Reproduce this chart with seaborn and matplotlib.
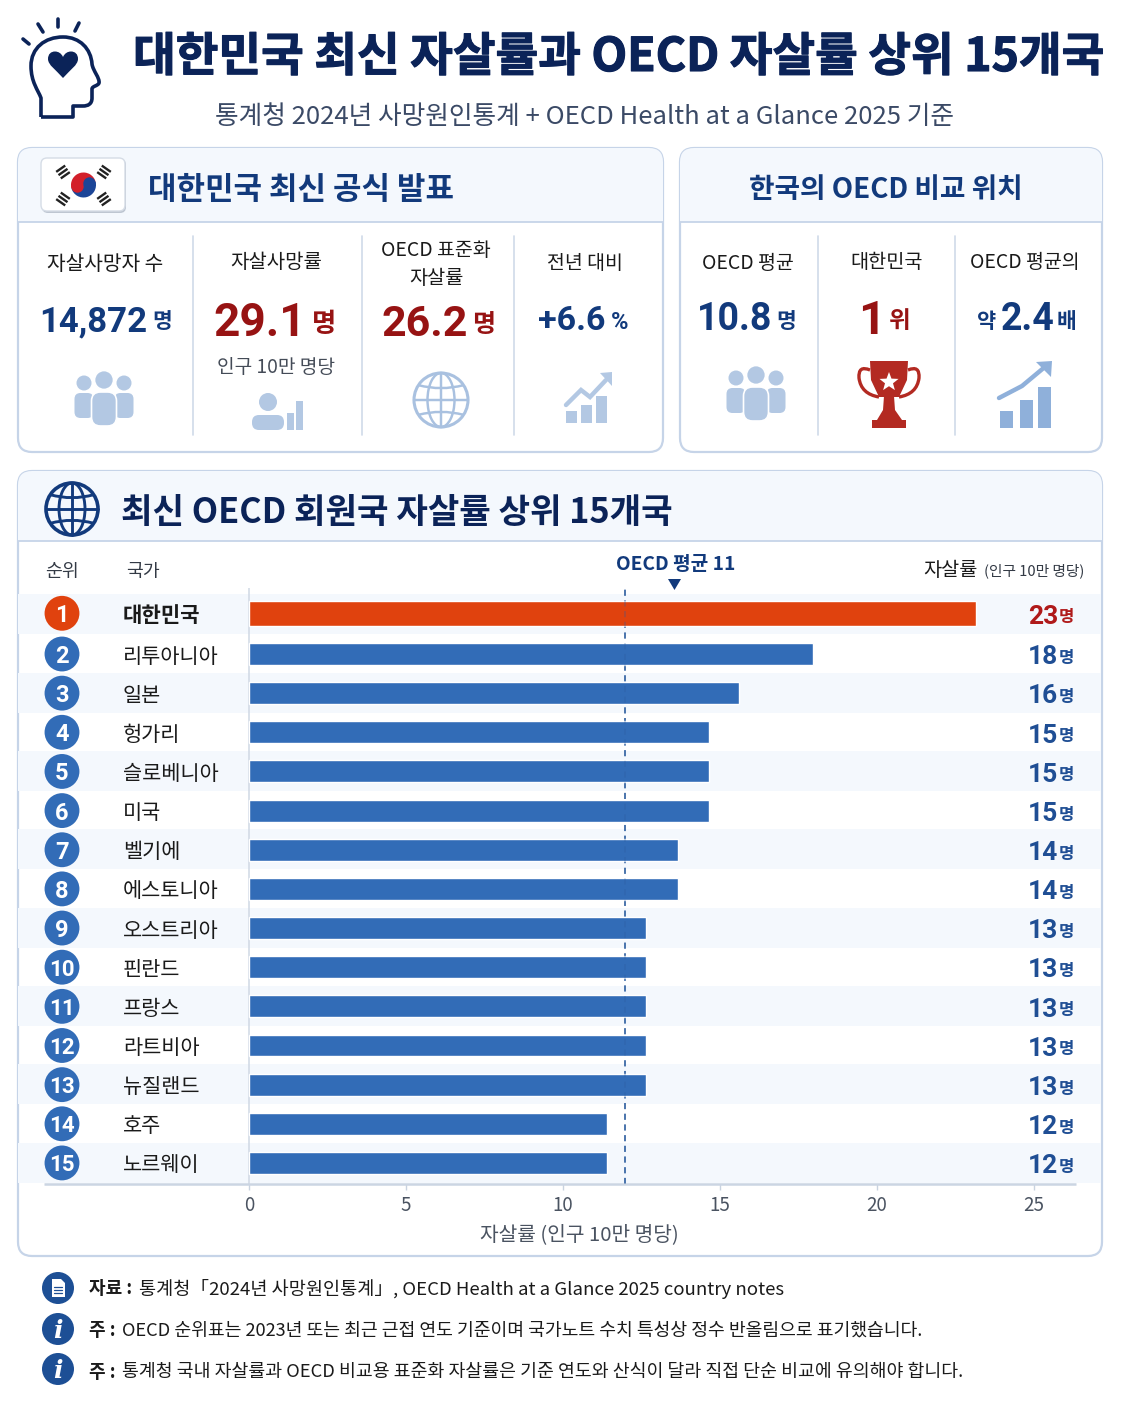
import numpy as np
import pandas as pd
import seaborn as sns
import matplotlib
matplotlib.use('Agg')
import matplotlib.pyplot as plt
import matplotlib.patheffects as pe
from matplotlib.patches import FancyBboxPatch, Circle, Wedge, Rectangle, Polygon, PathPatch, Arc
from matplotlib.path import Path

# data
countries = ['대한민국', '리투아니아', '일본', '헝가리', '슬로베니아', '미국', '벨기에', '에스토니아',
             '오스트리아', '핀란드', '프랑스', '라트비아', '뉴질랜드', '호주', '노르웨이']
bar_lengths = [23.15, 17.95, 15.6, 14.65, 14.65, 14.65, 13.65, 13.65, 12.63, 12.63, 12.63, 12.63, 12.63, 11.4, 11.4]
value_labels = [23, 18, 16, 15, 15, 15, 14, 14, 13, 13, 13, 13, 13, 12, 12]
x_ticks = [0, 5, 10, 15, 20, 25]
oecd_line = 11.97

NAVY = '#0B2358'
BLUE_TXT = '#123A7C'
VAL_BLUE = '#1F4E94'
RED_TXT = '#971313'
BAR_BLUE = '#326CB7'
BAR_RED = '#E0420E'
BAND = '#F4F8FD'
BORDER = '#C6D4E8'
ICON = '#B3C8E3'
ICON2 = '#8FB0DA'

sns.set_theme(style='white')
KR = ['Noto Sans CJK KR', 'DejaVu Sans']
NUM = ['Roboto', 'Noto Sans CJK KR']
plt.rcParams['font.family'] = KR

fig = plt.figure(figsize=(11.22, 14.02), dpi=100)
fig.patch.set_facecolor('white')

# overlay in pixel coordinates for the cards and icons
bg = fig.add_axes([0, 0, 1, 1], zorder=0)
bg.set_xlim(0, 1122)
bg.set_ylim(1402, 0)
bg.axis('off')


def txt(x, y, s, size, color='#1A1A1A', weight='normal', ha='center', family=KR):
    return bg.text(x, y, s, fontsize=size, color=color, fontweight=weight, ha=ha, va='center_baseline', family=family, zorder=6)


def card(x0, y0, x1, y1, head_y):
    box = FancyBboxPatch((x0, y0), x1 - x0, y1 - y0, boxstyle='round,pad=0,rounding_size=14',
                         fc='white', ec=BORDER, lw=1.6, zorder=1)
    bg.add_patch(box)
    head = Rectangle((x0, y0), x1 - x0, head_y - y0, fc=BAND, ec='none', zorder=1.1)
    bg.add_patch(head)
    head.set_clip_path(box)
    bg.plot([x0, x1], [head_y, head_y], color=BORDER, lw=1.3, zorder=1.2)


def people(cx, cy, c=ICON):
    for dx in [-20, 20]:
        bg.add_patch(Circle((cx + dx, cy - 15), 7.5, fc=c, ec='none', zorder=3))
        bg.add_patch(FancyBboxPatch((cx + dx - 9.5, cy - 5), 19, 25, boxstyle='round,pad=0,rounding_size=6',
                                    fc=c, ec='none', zorder=3))
    bg.add_patch(Circle((cx, cy - 18), 9.5, fc=c, ec='white', lw=1.2, zorder=4))
    bg.add_patch(FancyBboxPatch((cx - 12.5, cy - 6), 25, 34, boxstyle='round,pad=0,rounding_size=9',
                                fc=c, ec='white', lw=1.2, zorder=4))


def globe(cx, cy, r, c, lw):
    bg.add_patch(Circle((cx, cy), r, fc='none', ec=c, lw=lw, zorder=3))
    bg.add_patch(Arc((cx, cy), r, 2 * r, ec=c, lw=lw * .8, zorder=3))
    bg.plot([cx, cx], [cy - r, cy + r], color=c, lw=lw * .8, zorder=3)
    bg.plot([cx - r, cx + r], [cy, cy], color=c, lw=lw * .8, zorder=3)
    for f, sag in [(-.55, 3), (.55, -3)]:
        hw = r * np.sqrt(1 - f * f)
        y = cy + f * r
        bg.add_patch(PathPatch(Path([(cx - hw, y), (cx, y + 2 * sag), (cx + hw, y)], [Path.MOVETO, Path.CURVE3, Path.CURVE3]),
                               fc='none', ec=c, lw=lw * .8, zorder=3))


def bars(xs, w, tops, base, c):
    for x, t in zip(xs, tops):
        bg.add_patch(Rectangle((x, t), w, base - t, fc=c, ec='none', zorder=3))


def arrow_line(pts, c, lw, head):
    xs, ys = zip(*pts)
    bg.plot(xs, ys, color=c, lw=lw, zorder=3, solid_capstyle='round', solid_joinstyle='miter')
    bg.add_patch(Polygon(head, fc=c, ec='none', zorder=3))


def star(cx, cy, r, c):
    ang = np.deg2rad(np.arange(10) * 36 - 90)
    rad = np.where(np.arange(10) % 2 == 0, r, r * .42)
    bg.add_patch(Polygon(np.c_[cx + rad * np.cos(ang), cy + rad * np.sin(ang)], fc=c, ec='none', zorder=5))


# title block
title = txt(618, 52, '대한민국 최신 자살률과 OECD 자살률 상위 15개국', 33.4, NAVY, 'bold')
title.set_path_effects([pe.withStroke(linewidth=0.8, foreground=NAVY)])
txt(585, 114, '통계청 2024년 사망원인통계 + OECD Health at a Glance 2025 기준', 18.5, '#3B4A66')

# head icon
M, L, C = Path.MOVETO, Path.LINETO, Path.CURVE4
head_path = Path([(41, 117), (41, 98),
                  (38, 90), (31, 82), (31, 66),
                  (31, 48), (45, 37), (63, 37),
                  (80, 37), (91, 49), (92, 64),
                  (93, 71), (100, 78), (99, 83),
                  (98, 86), (92, 86), (92, 89),
                  (92, 98),
                  (92, 104), (88, 106), (83, 106),
                  (73, 106), (73, 117), (41, 117)],
                 [M, L, C, C, C, C, C, C, C, C, C, C, C, C, C, C, C, L, C, C, C, L, L, L])
bg.add_patch(PathPatch(head_path, fc='none', ec=NAVY, lw=2.6, zorder=3, joinstyle='round'))
for a, b in [((23, 39), (29, 44)), ((38, 24), (43, 32)), ((58.5, 19), (58.5, 27)), ((79, 23), (75, 31))]:
    bg.plot([a[0], b[0]], [a[1], b[1]], color=NAVY, lw=2.6, zorder=3, solid_capstyle='round')
heart = Path([(63, 78),
              (56, 70), (48, 65), (48, 59),
              (48, 54), (51, 51.5), (55, 51.5),
              (58.5, 51.5), (61.5, 53.5), (63, 57),
              (64.5, 53.5), (67.5, 51.5), (71, 51.5),
              (75, 51.5), (78, 54), (78, 59),
              (78, 65), (70, 70), (63, 78)],
             [M] + [C] * 18)
bg.add_patch(PathPatch(heart, fc=NAVY, ec='none', zorder=3))

# cards
card(18, 148, 663, 452, 222)
card(680, 148, 1102, 452, 222)
card(18, 471, 1102, 1256, 541)

for x in [193, 362, 514, 818, 955]:
    bg.plot([x, x], [236, 435], color='#CFDAE9', lw=1.2, zorder=2)

# flag tile
bg.add_patch(FancyBboxPatch((42, 159), 84, 54, boxstyle='round,pad=0,rounding_size=6', fc='#9AA5B5', ec='none', zorder=2, alpha=.6))
bg.add_patch(FancyBboxPatch((41, 158), 84, 53, boxstyle='round,pad=0,rounding_size=6', fc='white', ec='#D5DCE6', lw=1, zorder=2.1))
bg.add_patch(Wedge((83.5, 185), 12.5, 165, 345, fc='#D3202B', ec='none', zorder=3))
bg.add_patch(Wedge((83.5, 185), 12.5, -15, 165, fc='#1C4597', ec='none', zorder=3))
bg.add_patch(Circle((77.5, 186.5), 6.2, fc='#D3202B', ec='none', zorder=3.1))
bg.add_patch(Circle((89.5, 183.5), 6.2, fc='#1C4597', ec='none', zorder=3.1))
for cx, cy, ang in [(63, 172, 55), (104, 172, -55), (63, 199, -55), (104, 199, 55)]:
    th = np.deg2rad(ang)
    for off in [-4, 0, 4]:
        mx, my = cx + off * np.cos(th), cy + off * np.sin(th)
        dx, dy = -5.5 * np.sin(th), 5.5 * np.cos(th)
        bg.plot([mx - dx, mx + dx], [my - dy, my + dy], color='#222222', lw=1.7, zorder=3, solid_capstyle='butt')

txt(148, 187, '대한민국 최신 공식 발표', 22.3, BLUE_TXT, 'bold', ha='left')
txt(886, 187, '한국의 OECD 비교 위치', 20, BLUE_TXT, 'bold')

# left card stats
txt(105, 262, '자살사망자 수', 14.6)
txt(276, 260, '자살사망률', 14.4)
txt(436, 248, 'OECD 표준화', 14)
txt(436, 276, '자살률', 14.2)
txt(585, 261, '전년 대비', 14)

txt(147, 318, '14,872', 25, BLUE_TXT, 'bold', ha='right', family=NUM)
txt(152, 319, '명', 15.5, BLUE_TXT, 'bold', ha='left')
txt(306, 318, '29.1', 33, RED_TXT, 'bold', ha='right', family=NUM)
txt(312, 321, '명', 19, RED_TXT, 'bold', ha='left')
txt(468, 320, '26.2', 31, RED_TXT, 'bold', ha='right', family=NUM)
txt(472, 323, '명', 18, RED_TXT, 'bold', ha='left')
txt(606, 318, '+6.6', 24.5, BLUE_TXT, 'bold', ha='right', family=NUM)
txt(611, 320, '%', 17, BLUE_TXT, 'bold', ha='left', family=NUM)
txt(276, 365, '인구 10만 명당', 13.8, '#444B57')

# right card stats
txt(748, 261, 'OECD 평균', 14)
txt(887, 260, '대한민국', 14.2)
txt(1025, 260, 'OECD 평균의', 14)
txt(772, 316, '10.8', 27, BLUE_TXT, 'bold', ha='right', family=NUM)
txt(776, 319, '명', 15.5, BLUE_TXT, 'bold', ha='left')
txt(885, 316, '1', 34, RED_TXT, 'bold', ha='right', family=NUM)
txt(889, 319, '위', 17, RED_TXT, 'bold', ha='left')
txt(977, 319, '약', 15, BLUE_TXT, 'bold', ha='left')
txt(1055, 316, '2.4', 27, BLUE_TXT, 'bold', ha='right', family=NUM)
txt(1057, 319, '배', 15.5, BLUE_TXT, 'bold', ha='left')

# icons inside cards
people(104, 398)
people(756, 393)
globe(441, 400, 27, '#A9C1E0', 2.2)
bg.add_patch(Circle((268, 402), 9, fc=ICON, ec='none', zorder=3))
bg.add_patch(FancyBboxPatch((252, 415), 32, 15, boxstyle='round,pad=0,rounding_size=7', fc=ICON, ec='none', zorder=3))
bars([287, 296], 7, [413, 401], 430, ICON)
bars([566, 581, 596], 11, [411, 405, 396], 423, ICON)
arrow_line([(566, 405), (581, 390), (590, 397), (606, 380)], ICON, 3.2, [(600, 373), (612, 372), (612, 386)])
bars([1000, 1020, 1038], 13, [411, 400, 387], 428, ICON2)
arrow_line([(999, 398), (1022, 386), (1046, 366)], ICON2, 3.2, [(1036, 362), (1052, 361), (1051, 377)])

# trophy
TR = '#B32A22'
bg.add_patch(Polygon([(870, 361), (908, 361), (907, 380), (899, 397), (879, 397), (871, 380)], fc=TR, ec='none', zorder=3))
Q = Path.CURVE3
for hx, sgn in [(889, -1), (889, 1)]:
    handle = Path([(hx + sgn * 19, 370), (hx + sgn * 31, 365), (hx + sgn * 30, 378), (hx + sgn * 28, 394), (hx + sgn * 10, 397)],
                  [M, Q, Q, Q, Q])
    bg.add_patch(PathPatch(handle, fc='none', ec=TR, lw=2.4, zorder=3))
bg.add_patch(Polygon([(884, 396), (894, 396), (895, 410), (902, 420), (877, 420), (883, 410)], fc=TR, ec='none', zorder=3))
bg.add_patch(Rectangle((872, 420), 34, 8, fc=TR, ec='none', zorder=3))
star(889, 382, 10, 'white')

# big globe and chart heading
globe(72, 509, 26, BLUE_TXT, 2.6)
txt(121, 509, '최신 OECD 회원국 자살률 상위 15개국', 24.7, NAVY, 'bold', ha='left')

# table headers
txt(62, 570, '순위', 13.2, '#333A45')
txt(143, 570, '국가', 13.2, '#333A45')
txt(676, 562, 'OECD 평균 11', 13.8, BLUE_TXT, 'bold')
bg.add_patch(Polygon([(668, 579), (681, 579), (674.5, 590)], fc=BLUE_TXT, ec='none', zorder=5))
txt(923, 568, '자살률', 14.2, '#1A1A1A', ha='left')
txt(1084, 569, '(인구 10만 명당)', 10.6, '#333A45', ha='right')

# bar chart: axes run across the whole card so the row bands and ranks share its scales
px_per_unit = 31.4
x_left = (18 - 249) / px_per_unit
x_right = (1101 - 249) / px_per_unit
ax = fig.add_axes([18 / 1122, 1 - 1184 / 1402, (1101 - 18) / 1122, (1184 - 588) / 1402], zorder=1)
ax.patch.set_alpha(0)

df = pd.DataFrame({'country': countries, 'rate': bar_lengths})
colors = [BAR_RED] + [BAR_BLUE] * 14
sns.barplot(data=df, x='rate', y='country', hue='country', palette=colors, dodge=False, legend=False,
            width=0.56, saturation=1, ax=ax, zorder=3)
ax.set_xlim(x_left, x_right)
ax.set_ylim(14.538, -0.686)
sns.despine(ax=ax, left=True, bottom=True)

first = ax.patches[0]
first.set_height(0.64)
first.set_y(-0.36)

for i in range(0, 15, 2):
    ax.axhspan(i - 0.52, i + 0.5, color=BAND, lw=0, zorder=0)

ax.set_yticks([])
ax.set_ylabel('')
ax.set_xticks(x_ticks)
ax.tick_params(axis='x', length=4, width=1, color='#C9D3E0', labelsize=13.5, labelcolor='#4A5361', pad=4, bottom=True)
ax.set_xlabel('자살률 (인구 10만 명당)', fontsize=14.6, color='#4A5361')
ax.xaxis.set_label_coords((579 - 18) / (1101 - 18), -51 / 596)
ax.xaxis.label.set_va('center')

ax.axvline(0, color='#D3DBE6', lw=1.2, zorder=2)
ax.hlines(14.538, (44 - 249) / px_per_unit, (1076 - 249) / px_per_unit, color='#CBD5E3', lw=1.8, zorder=4, clip_on=False)
# dashed mean line, faint where it crosses the bars
ax.axvline(oecd_line, color='#2B5C9E', lw=1.1, ls=(0, (4, 3)), zorder=2.5)
ax.axvline(oecd_line, color='#2B5C9E', lw=1.1, ls=(0, (4, 3)), zorder=4, alpha=.35)

rank_x = (62 - 249) / px_per_unit
name_x = (123 - 249) / px_per_unit
val_x = (1058 - 249) / px_per_unit
ranks = np.arange(1, 16)
rows = np.arange(15)
rows_y = rows.astype(float)
rows_y[0] = -0.04
ax.scatter([rank_x] * 15, rows_y, s=630, c=colors, linewidths=0, zorder=5, clip_on=False)
for i, (rank, name, val) in enumerate(zip(ranks, countries, value_labels)):
    y = rows_y[i]
    ax.text(rank_x, y, str(rank), color='white', fontsize=16 if rank > 9 else 17, fontweight='bold', ha='center', va='center_baseline', family=NUM, zorder=6)
    ax.text(name_x, y, name, color='#1A1A1A', fontsize=15.2 if i == 0 else 15, fontweight='bold' if i == 0 else 'normal', ha='left', va='center_baseline', zorder=6)
    c = '#B01A1A' if i == 0 else VAL_BLUE
    ax.text(val_x, y + .02, str(val), color=c, fontsize=19, fontweight='bold', ha='right', va='center_baseline', family=NUM, zorder=6)
    ax.text(val_x + .03, y + .05, '명', color=c, fontsize=12, fontweight='bold', ha='left', va='center_baseline', zorder=6)

# footnotes
for y in [1288, 1329, 1369]:
    bg.add_patch(Circle((58, y), 16, fc='#1D4F95', ec='none', zorder=3))
bg.add_patch(Polygon([(52, 1279), (61, 1279), (65, 1283), (65, 1297), (52, 1297)], fc='white', ec='none', zorder=4))
for y in [1287, 1290, 1293]:
    bg.plot([54, 62], [y, y], color='#1D4F95', lw=.9, zorder=5)
for y in [1329, 1369]:
    bg.text(58, y, 'i', color='white', fontsize=18, fontweight='bold', style='italic', family='DejaVu Serif', ha='center', va='center_baseline', zorder=5)

txt(89, 1287, '자료 :', 13, '#1A1A1A', 'bold', ha='left')
txt(139, 1287, '통계청「2024년 사망원인통계」, OECD Health at a Glance 2025 country notes', 13.4, ha='left')
txt(89, 1329, '주 :', 13, '#1A1A1A', 'bold', ha='left')
txt(122, 1329, 'OECD 순위표는 2023년 또는 최근 근접 연도 기준이며 국가노트 수치 특성상 정수 반올림으로 표기했습니다.', 13.15, ha='left')
txt(89, 1370, '주 :', 13, '#1A1A1A', 'bold', ha='left')
txt(122, 1370, '통계청 국내 자살률과 OECD 비교용 표준화 자살률은 기준 연도와 산식이 달라 직접 단순 비교에 유의해야 합니다.', 13.2, ha='left')

fig.savefig('out.png', dpi=100)
